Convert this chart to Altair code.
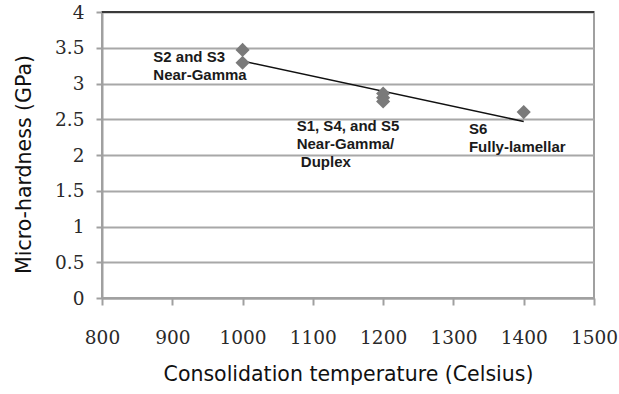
import altair as alt
import pandas as pd

# Measured samples
temps = [1000, 1000, 1200, 1200, 1200, 1400]
hardness = [3.47, 3.29, 2.86, 2.80, 2.75, 2.60]

# Annotation labels (anchored in data units)
note_lines = [
    ["S2 and S3", "Near-Gamma"],
    ["S1, S4, and S5", "Near-Gamma/", "\u200b\u00a0Duplex"],
    ["S6", "Fully-lamellar"],
]
note_x = [873, 1077, 1322]
note_y = [3.47, 2.50, 2.46]

x_ticks = [800, 900, 1000, 1100, 1200, 1300, 1400, 1500]
y_ticks = [0, 0.5, 1, 1.5, 2, 2.5, 3, 3.5, 4]

df = pd.DataFrame({"temp": temps, "hardness": hardness})
notes = pd.DataFrame({"label": note_lines, "x": note_x, "y": note_y})

xscale = alt.Scale(domain=[800, 1500], nice=False, zero=False)
yscale = alt.Scale(domain=[0, 4], nice=False)

xaxis = alt.Axis(
    values=x_ticks,
    format="d",
    title="Consolidation temperature (Celsius)",
    grid=False,
    tickSize=7,
    labelPadding=23,
    labelFlush=False,
    titleY=66,
    titleBaseline="top",
)
yaxis = alt.Axis(
    values=y_ticks,
    labelExpr="datum.value + ''",
    title="Micro-hardness (GPa)",
    grid=True,
    tickSize=6,
    labelPadding=12,
    labelFlush=False,
    titleX=-68,
    titleY=152,
    titleAngle=-90,
    titleBaseline="bottom",
    titleAlign="center",
)

top_rule = alt.Chart(pd.DataFrame({"v": [4]})).mark_rule(
    color="#3a3a3a", strokeWidth=2
).encode(y=alt.Y("v:Q", scale=yscale, axis=yaxis))

points = alt.Chart(df).mark_point(
    shape="diamond", filled=True, size=200, color="#7a7a7a", opacity=1
).encode(
    x=alt.X("temp:Q", scale=xscale, axis=xaxis),
    y=alt.Y("hardness:Q", scale=yscale, axis=yaxis),
)

trend = alt.Chart(df).transform_regression(
    "temp", "hardness"
).mark_line(color="#111111", strokeWidth=1.5).encode(
    x=alt.X("temp:Q", scale=xscale, axis=xaxis),
    y=alt.Y("hardness:Q", scale=yscale, axis=yaxis),
)

text = alt.Chart(notes).mark_text(
    align="left",
    baseline="top",
    font="Liberation Sans",
    fontWeight="bold",
    fontSize=15,
    lineHeight=18,
    color="#1a1a1a",
).encode(
    x=alt.X("x:Q", scale=xscale, axis=xaxis),
    y=alt.Y("y:Q", scale=yscale, axis=yaxis),
    text="label",
)

chart = (
    alt.layer(top_rule, trend, points, text)
    .properties(
        width=492,
        height=286,
        autosize=alt.AutoSizeParams(type="none"),
        padding={"left": 102, "top": 12, "right": 25, "bottom": 96},
        background="white",
    )
    .configure_view(stroke="#a0a0a0", strokeWidth=2)
    .configure_axis(
        domainColor="#a0a0a0",
        domainWidth=2,
        gridColor="#a8a8a8",
        gridWidth=2,
        tickColor="#a0a0a0",
        tickWidth=2,
        labelFont="DejaVu Serif",
        labelFontSize=18.5,
        labelColor="#2a2a2a",
        titleFont="DejaVu Sans",
        titleFontSize=20.5,
        titleFontWeight="normal",
        titleColor="#111111",
    )
)

chart.save("out.html", embed_options={"renderer": "svg", "actions": False})
